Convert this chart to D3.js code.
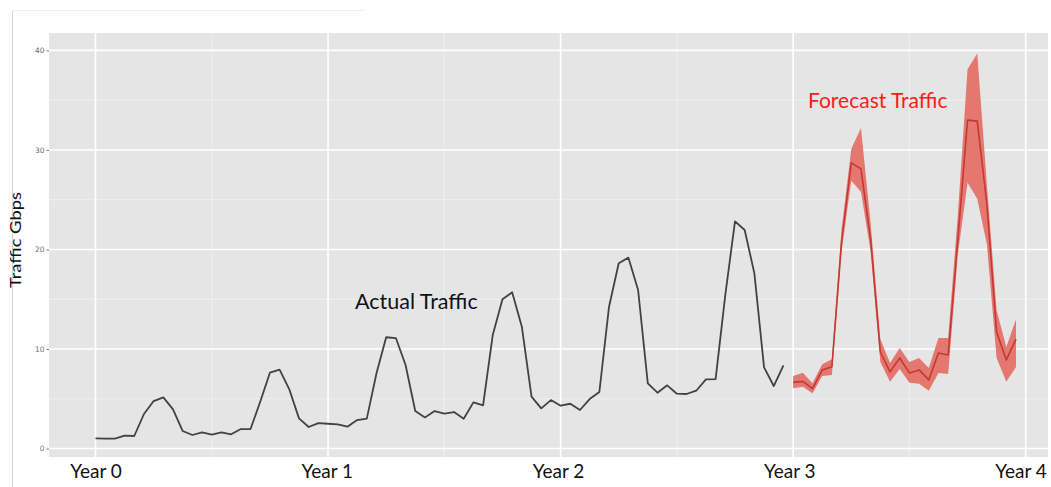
<!DOCTYPE html>
<html>
<head>
<meta charset="utf-8">
<script src="https://cdn.jsdelivr.net/npm/d3@7/dist/d3.min.js"></script>
<style>
  html, body { margin: 0; padding: 0; background: #ffffff; }
  svg { display: block; }
</style>
</head>
<body>
<svg id="chart" width="1051" height="487"></svg>
<script>
// Semi-monthly traffic samples (24 per year), Gbps
const actualTraffic = [
  1.03, 1.00, 0.99, 1.29, 1.26, 3.47, 4.77, 5.14, 3.94, 1.76, 1.36, 1.63,
  1.39, 1.63, 1.43, 1.96, 1.96, 4.70, 7.62, 7.92, 5.95, 3.03, 2.16, 2.56,
  2.49, 2.43, 2.20, 2.86, 3.00, 7.56, 11.18, 11.10, 8.39, 3.77, 3.13, 3.77,
  3.50, 3.67, 3.00, 4.64, 4.34, 11.41, 14.99, 15.70, 12.24, 5.21, 4.04, 4.87,
  4.30, 4.50, 3.87, 4.97, 5.68, 14.25, 18.61, 19.18, 15.93, 6.55, 5.61, 6.35,
  5.51, 5.48, 5.81, 6.95, 6.98, 15.43, 22.83, 21.96, 17.60, 8.16, 6.28, 8.36
];

// Forecast for year 3 to year 4 (continues after the actual series)
const forecastMean = [
  6.65, 6.75, 6.01, 7.89, 8.22, 20.8, 28.7, 28.1, 21.0, 9.7, 7.7, 9.1,
  7.6, 7.9, 6.9, 9.6, 9.4, 21.0, 33.0, 32.9, 24.5, 11.7, 8.9, 11.0
];
const forecastLower = [
  6.05, 6.20, 5.55, 7.29, 7.39, 19.8, 26.9, 25.8, 19.8, 8.7, 6.7, 8.0,
  6.6, 6.5, 5.8, 7.6, 7.5, 19.5, 26.7, 25.1, 20.5, 9.1, 6.7, 8.2
];
const forecastUpper = [
  7.29, 7.62, 6.55, 8.46, 8.96, 22.0, 30.1, 32.2, 22.6, 11.0, 8.6, 10.1,
  8.7, 9.1, 8.1, 11.1, 11.1, 23.5, 38.1, 39.7, 26.5, 13.9, 10.2, 13.0
];

const yTicks = [0, 10, 20, 30, 40];
const yMinorTicks = [5, 15, 25, 35];
const xYears = [0, 1, 2, 3, 4];
const xMinorYears = [0.5, 1.5, 2.5, 3.5];
const yearLabels = ["Year 0", "Year 1", "Year 2", "Year 3", "Year 4"];
const samplesPerYear = 24;

const svg = d3.select("#chart");

// thin frame lines at the top-left of the figure
svg.append("line").attr("x1", 12.5).attr("x2", 12.5).attr("y1", 10).attr("y2", 487)
  .attr("stroke", "#d6d6d6").attr("stroke-width", 1);
svg.append("line").attr("x1", 12).attr("x2", 365).attr("y1", 10.5).attr("y2", 10.5)
  .attr("stroke", "#f0f0f0").attr("stroke-width", 1);

const panel = { left: 49, right: 1048, top: 33, bottom: 457 };

const x = d3.scaleLinear().domain([-0.2, 4.096]).range([panel.left, panel.right]);
const y = d3.scaleLinear().domain([-0.85, 41.75]).range([panel.bottom, panel.top]);

// panel background
svg.append("rect")
  .attr("x", panel.left).attr("y", panel.top)
  .attr("width", panel.right - panel.left).attr("height", panel.bottom - panel.top)
  .attr("fill", "#e5e5e5");

const grid = svg.append("g");
grid.selectAll(".ymin").data(yMinorTicks).join("line")
  .attr("x1", panel.left).attr("x2", panel.right)
  .attr("y1", d => y(d)).attr("y2", d => y(d))
  .attr("stroke", "#f2f2f2").attr("stroke-width", 0.8);
grid.selectAll(".xmin").data(xMinorYears).join("line")
  .attr("y1", panel.top).attr("y2", panel.bottom)
  .attr("x1", d => x(d)).attr("x2", d => x(d))
  .attr("stroke", "#f2f2f2").attr("stroke-width", 0.8);
grid.selectAll(".ymaj").data(yTicks).join("line")
  .attr("x1", panel.left).attr("x2", panel.right)
  .attr("y1", d => y(d)).attr("y2", d => y(d))
  .attr("stroke", "#ffffff").attr("stroke-width", 1.6);
grid.selectAll(".xmaj").data(xYears).join("line")
  .attr("y1", panel.top).attr("y2", panel.bottom)
  .attr("x1", d => x(d)).attr("x2", d => x(d))
  .attr("stroke", "#ffffff").attr("stroke-width", 1.6);

// y axis
const yAxis = svg.append("g")
  .attr("transform", `translate(${panel.left},0)`)
  .call(d3.axisLeft(y).tickValues(yTicks).tickSize(2.5).tickPadding(2));
yAxis.select(".domain").remove();
yAxis.selectAll(".tick line").attr("stroke", "#7a7a7a");
yAxis.selectAll(".tick text")
  .attr("fill", "#6e6e6e")
  .style("font-family", "'DejaVu Sans', sans-serif")
  .style("font-size", "7.5px");

// actual traffic line
const tActual = actualTraffic.map((v, i) => ({ t: i / samplesPerYear, v }));
const line = d3.line().x(d => x(d.t)).y(d => y(d.v));
svg.append("path")
  .datum(tActual)
  .attr("fill", "none")
  .attr("stroke", "#424242")
  .attr("stroke-width", 1.8)
  .attr("stroke-linejoin", "round")
  .attr("d", line);

// forecast ribbon and mean
const offset = actualTraffic.length;
const fc = forecastMean.map((v, i) => ({
  t: (offset + i) / samplesPerYear, v, lo: forecastLower[i], hi: forecastUpper[i]
}));
svg.append("path")
  .datum(fc)
  .attr("fill", "#e4726a")
  .attr("fill-opacity", 0.95)
  .attr("d", d3.area().x(d => x(d.t)).y0(d => y(d.lo)).y1(d => y(d.hi)));
svg.append("path")
  .datum(fc)
  .attr("fill", "none")
  .attr("stroke", "#c23a32")
  .attr("stroke-width", 1.6)
  .attr("stroke-linejoin", "round")
  .attr("d", line);

// year labels under the panel
const yearPos = d3.scalePoint().domain(yearLabels).range([96, 1021]);
svg.append("g").selectAll("text").data(yearLabels).join("text")
  .attr("x", d => yearPos(d))
  .attr("y", 478)
  .attr("text-anchor", "middle")
  .attr("fill", "#111")
  .style("font-family", "Lato, 'Open Sans', sans-serif")
  .style("font-size", "19px")
  .text(d => d);

// y axis title
svg.append("text")
  .attr("transform", "translate(21,240) rotate(-90)")
  .attr("text-anchor", "middle")
  .attr("fill", "#111")
  .attr("textLength", 96)
  .attr("lengthAdjust", "spacingAndGlyphs")
  .style("font-family", "Lato, 'Open Sans', sans-serif")
  .style("font-size", "15px")
  .text("Traffic Gbps");

// series annotations
svg.append("text")
  .attr("x", 355).attr("y", 309)
  .attr("fill", "#111")
  .style("font-family", "Lato, 'Open Sans', sans-serif")
  .style("font-size", "21.5px")
  .text("Actual Traffic");
svg.append("text")
  .attr("x", 808).attr("y", 108)
  .attr("fill", "#ff1a1a")
  .style("font-family", "Lato, 'Open Sans', sans-serif")
  .style("font-size", "21px")
  .text("Forecast Traffic");
</script>
</body>
</html>
